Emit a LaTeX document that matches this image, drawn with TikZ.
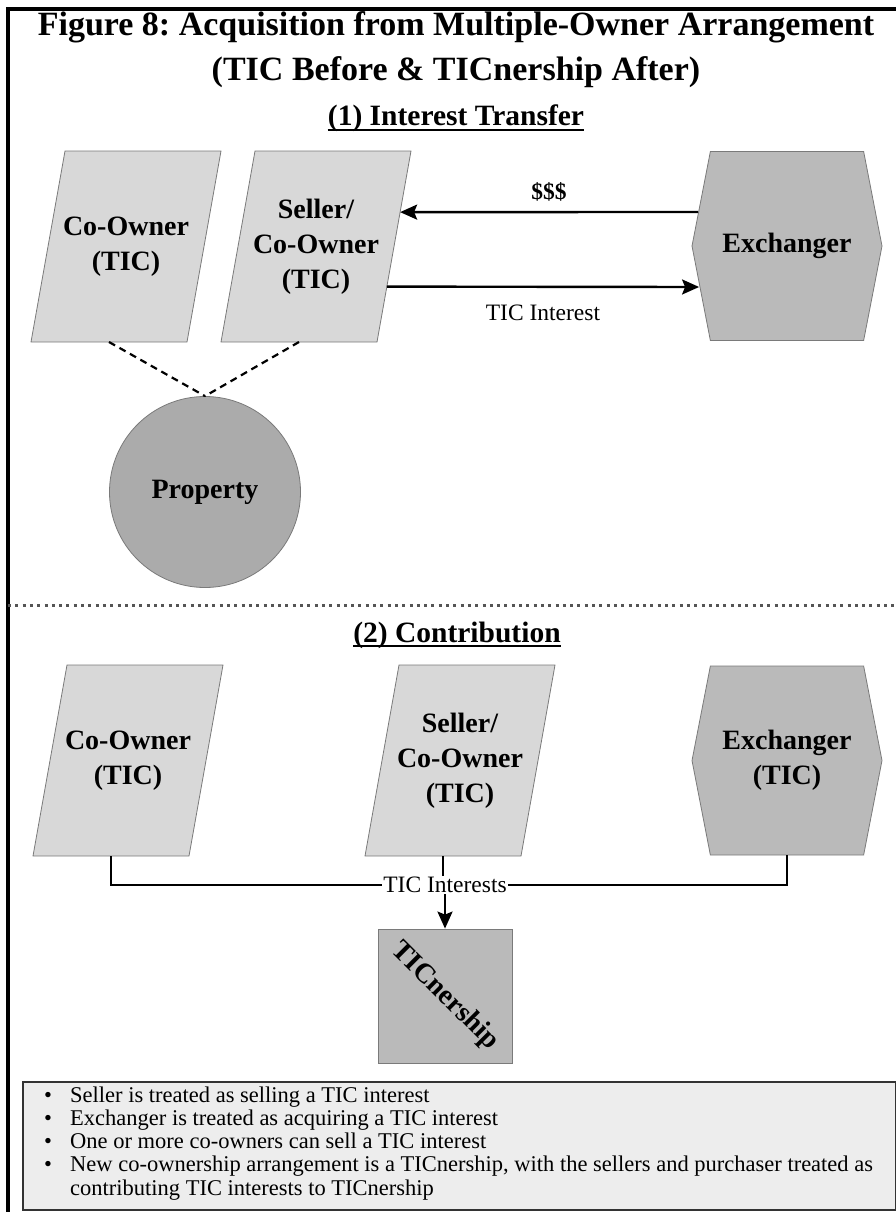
\documentclass[tikz,border=0pt]{standalone}
\usepackage{fontspec}
\usepackage{graphicx}
\setmainfont{Liberation Serif}
\usetikzlibrary{shapes.symbols,arrows.meta,calc}
\frenchspacing

\definecolor{lightfill}{HTML}{D8D8D8}
\definecolor{darkfill}{HTML}{BABABA}
\definecolor{propfill}{HTML}{ABABAB}
\definecolor{notefill}{HTML}{EDEDED}
\definecolor{edgegray}{HTML}{7A7A7A}
\definecolor{dotgray}{HTML}{555555}

% a leaning party box: name, x, y, label
% top side runs from x-61 to x+95, bottom side from x-95 to x+61, height 191
\newcommand{\partybox}[4]{%
  \coordinate (#1-tl) at (#2-61,#3-95.5);
  \coordinate (#1-tr) at (#2+95,#3-95.5);
  \coordinate (#1-br) at (#2+61,#3+95.5);
  \coordinate (#1-bl) at (#2-95,#3+95.5);
  \coordinate (#1-s) at (#2-17,#3+95.5);
  \filldraw[partyfill] (#1-tl) -- (#1-tr) -- (#1-br) -- (#1-bl) -- cycle;
  \node[lbl] (#1) at (#2,#3) {#4};
}

\begin{document}
\begin{tikzpicture}[x=1pt,y=-1pt,
  lbl/.style={font=\fontsize{28}{35}\selectfont\bfseries, align=center},
  partyfill/.style={fill=lightfill, draw=edgegray, line width=0.8pt},
  exch/.style={signal, signal to=west and east, signal pointer angle=158,
    minimum width=190pt, minimum height=189pt,
    fill=darkfill, draw=edgegray, line width=0.8pt, inner sep=2pt, lbl},
  holder/.style={circle, minimum size=191pt, fill=propfill, draw=edgegray,
    line width=0.8pt, lbl},
  poolbox/.style={rectangle, minimum size=134pt, fill=darkfill, draw=edgegray,
    line width=0.8pt, lbl},
  flow/.style={line width=2.4pt, -{Stealth[length=17pt,width=15pt,inset=3pt]}},
  link/.style={line width=2.4pt},
  tie/.style={line width=2.2pt, dash pattern=on 7pt off 5pt},
  small/.style={font=\fontsize{23.5}{28}\selectfont},
  titlefont/.style={font=\fontsize{34}{40}\selectfont\bfseries, inner sep=0pt},
  heading/.style={font=\fontsize{29.5}{34}\selectfont\bfseries, inner sep=0pt},
  notebox/.style={rectangle, fill=notefill, draw=black!80, line width=1.5pt},
  note/.style={font=\fontsize{22.5}{23}\selectfont, inner sep=0pt}
]
\useasboundingbox (0,0) rectangle (896,1212);
\clip (0,0) rectangle (896,1212);

% outer frame (runs past the page on the right and bottom)
\draw[line width=3.5pt] (8,1240) -- (8,9) -- (920,9);

% title
\node[titlefont, anchor=base] (t1) at (456,36) {Figure 8: Acquisition from Multiple-Owner Arrangement};
\node[titlefont, anchor=base] (t2) at (456,81) {(TIC Before \& TICnership After)};

% ---------- part 1: interest transfer ----------
\node[heading, anchor=base] (h1) at (456,126) {(1) Interest Transfer};
\draw[line width=2.2pt] ([yshift=-4pt]h1.base west) -- ([yshift=-4pt]h1.base east);

\partybox{co1}{126}{246.5}{Co-Owner\\(TIC)}
\partybox{s1}{316}{246.5}{Seller/\\Co-Owner\\(TIC)}
\node[exch] (ex1) at (787,246) {Exchanger};
\node[holder] (prop) at (205,492) {Property};

\coordinate (payin) at ($(s1-tr)!0.32!(s1-br)$);
\coordinate (payout) at ([xshift=6.5pt,yshift=34pt]ex1.west);
\coordinate (ticout) at ($(s1-tr)!0.71!(s1-br)$);
\coordinate (ticin) at ([xshift=7.5pt,yshift=-41pt]ex1.west);

\draw[flow] (payout) -- (payin) node[midway, yshift=20pt, font=\fontsize{23.5}{28}\selectfont\bfseries] (cash) {\$\$\$};
\draw[flow] (ticout) -- (ticin) node[midway, yshift=-26pt, small] (ticlbl) {TIC Interest};

\draw[tie] (co1-s) -- (prop.north);
\draw[tie] (s1-s) -- (prop.north);

% separator between the two parts
\draw[dotgray, line width=3pt, dash pattern=on 3pt off 4.3pt] (8,605) -- (896,605);

% ---------- part 2: contribution ----------
\node[heading, anchor=base] (h2) at (457,642) {(2) Contribution};
\draw[line width=2.2pt] ([yshift=-4pt]h2.base west) -- ([yshift=-4pt]h2.base east);

\partybox{co2}{128}{760.5}{Co-Owner\\(TIC)}
\partybox{s2}{460}{760.5}{Seller/\\Co-Owner\\(TIC)}
\node[exch] (ex2) at (787,760.5) {Exchanger\\(TIC)};

\node[small, inner sep=1pt] (pool) at (445,885) {TIC Interests};
\draw[link] (co2-s) |- (pool.west);
\draw[link] (ex2.south) |- (pool.east);
\draw[link] (s2-s) -- (s2-s |- pool.north);

\node[poolbox] (tn) at (445,996) {\rotatebox{-45}{TICnership}};
\draw[flow] (pool.south) -- (tn.north);

% ---------- notes ----------
\node[notebox, minimum width=873pt, minimum height=128pt, anchor=north west] (notes) at (22,1081) {};
\node[note, anchor=base west] (n1) at (44,1102.5) {\makebox[26pt][l]{\textbullet}Seller is treated as selling a TIC interest};
\node[note, anchor=base west] (n2) at (44,1125.7) {\makebox[26pt][l]{\textbullet}Exchanger is treated as acquiring a TIC interest};
\node[note, anchor=base west] (n3) at (44,1148.8) {\makebox[26pt][l]{\textbullet}One or more co-owners can sell a TIC interest};
\node[note, anchor=base west] (n4) at (44,1171.9) {\makebox[26pt][l]{\textbullet}New co-ownership arrangement is a TICnership, with the sellers and purchaser treated as};
\node[note, anchor=base west] (n5) at (70,1195) {contributing TIC interests to TICnership};
\end{tikzpicture}
\end{document}
